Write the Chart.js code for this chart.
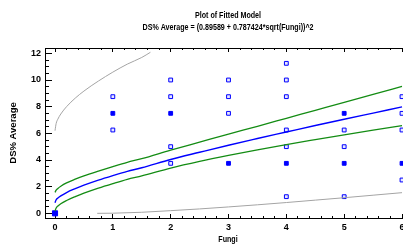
<!DOCTYPE html>
<html>
<head>
<meta charset="utf-8">
<script src="https://cdn.jsdelivr.net/npm/chart.js@4.4.1/dist/chart.umd.min.js"></script>
<style>
  html, body { margin: 0; padding: 0; background: #fff; overflow: hidden; }
  #fit-chart { display: block; }
</style>
</head>
<body>
<canvas id="fit-chart" width="403" height="245"></canvas>
<script>
const titleLines = ["Plot of Fitted Model", "DS% Average = (0.89589 + 0.787424*sqrt(Fungi))^2"];
const xTitle = "Fungi";
const yTitle = "DS% Average";

const xTickLabels = [0, 1, 2, 3, 4, 5, 6];
const yTickLabels = [0, 2, 4, 6, 8, 10, 12];

// observed points (count > 1 where several observations overlap)
const obsX = [0, 1, 1, 1, 2, 2, 2, 2, 2, 3, 3, 3, 3, 4, 4, 4, 4, 4, 4, 4, 5, 5, 5, 5, 5, 6, 6, 6, 6, 6];
const obsY = [0, 8.75, 7.5, 6.25, 10, 8.75, 7.5, 5, 3.75, 10, 8.75, 7.5, 3.75, 11.25, 10, 8.75, 6.25, 5, 3.75, 1.25, 7.5, 6.25, 5, 3.75, 1.25, 8.75, 7.5, 6.25, 3.75, 2.5];
const obsCount = [3, 1, 2, 1, 1, 1, 2, 1, 1, 1, 1, 1, 2, 1, 1, 1, 1, 1, 2, 1, 2, 1, 1, 2, 1, 1, 1, 1, 2, 1];

// fitted line and 95% confidence limits
const fitX = [0, 0.02, 0.05, 0.1, 0.2, 0.35, 0.5, 0.75, 1, 1.25, 1.5, 2, 2.5, 3, 3.5, 4, 4.5, 5, 5.5, 6];
const fitY = [0.80, 1.02, 1.15, 1.31, 1.56, 1.85, 2.11, 2.49, 2.83, 3.15, 3.42, 4.04, 4.58, 5.11, 5.61, 6.10, 6.59, 7.06, 7.52, 7.98];
const confUpperY = [1.57, 1.74, 1.87, 2.03, 2.28, 2.56, 2.81, 3.17, 3.51, 3.83, 4.10, 4.74, 5.34, 5.94, 6.53, 7.13, 7.73, 8.33, 8.92, 9.52];
const confLowerY = [0.18, 0.40, 0.55, 0.72, 0.96, 1.25, 1.51, 1.89, 2.23, 2.55, 2.81, 3.39, 3.89, 4.34, 4.76, 5.16, 5.53, 5.89, 6.24, 6.58];

// prediction limits
const predUpperX = [0, 0.02, 0.05, 0.1, 0.2, 0.35, 0.5, 0.75, 1, 1.25, 1.5, 1.65];
const predUpperY = [6.20, 6.74, 7.07, 7.45, 8.00, 8.64, 9.17, 9.92, 10.59, 11.19, 11.69, 12.08];
const predLowerX = [0.73, 1, 1.5, 2, 2.5, 3, 3.5, 4, 4.5, 5, 5.5, 6];
const predLowerY = [0.00, 0.01, 0.08, 0.20, 0.33, 0.48, 0.64, 0.81, 0.99, 1.17, 1.36, 1.55];

const FONT_FAMILY = '"Liberation Sans", Arial, sans-serif';
const X_MIN = -0.173;
const X_MAX = 6.017;
const Y_MIN = -0.35;
const Y_MAX = 12.4;
const TEXT_CENTER_X = 228;
const TEXT_SQUEEZE = 0.75;

function toPoints(xs, ys) {
  return xs.map((x, index) => ({ x, y: ys[index] }));
}

function stepTicks(start, stop, step) {
  const values = [];
  for (let i = 0; start + i * step <= stop + 1e-9; i++) {
    values.push(Math.round((start + i * step) * 100) / 100);
  }
  return values;
}

function fixedTicks(values) {
  return (scale) => {
    scale.ticks = values.map((value) => ({ value }));
  };
}

function fitSize(size) {
  return (scale) => {
    if (scale.isHorizontal()) {
      scale.height = size;
    } else {
      scale.width = size;
    }
    scale.paddingLeft = 0;
    scale.paddingRight = 0;
    scale.paddingTop = 0;
    scale.paddingBottom = 0;
  };
}

function curve(xs, ys, color, width) {
  return {
    type: "line",
    data: toPoints(xs, ys),
    borderColor: color,
    borderWidth: width,
    pointRadius: 0,
    pointHoverRadius: 0,
    fill: false,
    cubicInterpolationMode: "monotone",
  };
}

function axisBase(extra) {
  return Object.assign(
    {
      type: "linear",
      border: { display: true, color: "#000", width: 1 },
    },
    extra
  );
}

function tickGrid(length) {
  return { drawOnChartArea: false, drawTicks: true, tickLength: length, tickColor: "#000", tickWidth: 1 };
}

function drawSqueezed(ctx, text, x, y) {
  ctx.save();
  ctx.translate(x, y);
  ctx.scale(TEXT_SQUEEZE, 1);
  ctx.fillText(text, 0, 0);
  ctx.restore();
}

const textPlugin = {
  id: "fittedText",
  afterDraw(chart) {
    const { ctx } = chart;
    ctx.save();
    ctx.fillStyle = "#000";
    ctx.textAlign = "center";
    ctx.textBaseline = "middle";
    ctx.font = `bold 9.5px ${FONT_FAMILY}`;
    titleLines.forEach((line, index) => {
      drawSqueezed(ctx, line, TEXT_CENTER_X, 15.5 + index * 12);
    });
    drawSqueezed(ctx, xTitle, TEXT_CENTER_X, 239);
    ctx.restore();
  },
};

const tickFont = { family: FONT_FAMILY, size: 9, weight: "bold" };

new Chart(document.getElementById("fit-chart"), {
  type: "scatter",
  data: {
    datasets: [
      curve(predUpperX, predUpperY, "#a4a4a4", 1),
      curve(predLowerX, predLowerY, "#a4a4a4", 1),
      curve(fitX, confUpperY, "#138c13", 1.3),
      curve(fitX, confLowerY, "#138c13", 1.3),
      curve(fitX, fitY, "#0000ff", 1.4),
      {
        type: "scatter",
        data: toPoints(obsX, obsY),
        pointStyle: "rect",
        pointRadius: (ctx) => (obsCount[ctx.dataIndex] > 2 ? 3.6 : 2.7),
        borderColor: "#0000ff",
        borderWidth: 1,
        backgroundColor: (ctx) => (obsCount[ctx.dataIndex] > 1 ? "#0000ff" : "#e6e6ff"),
        clip: false,
      },
    ],
  },
  options: {
    responsive: false,
    devicePixelRatio: 1,
    animation: false,
    layout: { autoPadding: false, padding: { top: 48, left: 0, right: 0, bottom: 0 } },
    plugins: { legend: { display: false }, tooltip: { enabled: false }, title: { display: false } },
    scales: {
      x: axisBase({
        position: "bottom",
        weight: 1,
        min: X_MIN,
        max: X_MAX,
        afterBuildTicks: fixedTicks(xTickLabels),
        afterFit: fitSize(27),
        grid: tickGrid(-4),
        ticks: { font: tickFont, color: "#000", padding: 8, autoSkip: false, maxRotation: 0 },
      }),
      xMinor: axisBase({
        position: "bottom",
        weight: 0,
        min: X_MIN,
        max: X_MAX,
        afterBuildTicks: fixedTicks(stepTicks(0, 6, 0.2)),
        afterFit: fitSize(0),
        grid: tickGrid(-2),
        ticks: { display: false },
      }),
      xTop: axisBase({
        position: "top",
        weight: 1,
        min: X_MIN,
        max: X_MAX,
        afterBuildTicks: fixedTicks(xTickLabels),
        afterFit: fitSize(0),
        grid: tickGrid(-4),
        ticks: { display: false },
      }),
      xTopMinor: axisBase({
        position: "top",
        weight: 0,
        min: X_MIN,
        max: X_MAX,
        afterBuildTicks: fixedTicks(stepTicks(0, 6, 0.2)),
        afterFit: fitSize(0),
        grid: tickGrid(-2),
        ticks: { display: false },
      }),
      y: axisBase({
        position: "left",
        weight: 1,
        min: Y_MIN,
        max: Y_MAX,
        afterBuildTicks: fixedTicks(yTickLabels),
        afterFit: fitSize(45),
        grid: tickGrid(-7),
        ticks: { font: tickFont, color: "#000", padding: 11, autoSkip: false },
        title: {
          display: true,
          text: yTitle,
          font: { family: FONT_FAMILY, size: 9.5, weight: "bold" },
          color: "#000",
          padding: { top: 8, bottom: 0 },
        },
      }),
      yMinor: axisBase({
        position: "left",
        weight: 0,
        min: Y_MIN,
        max: Y_MAX,
        afterBuildTicks: fixedTicks(stepTicks(0, 12, 0.5)),
        afterFit: fitSize(0),
        grid: tickGrid(-4),
        ticks: { display: false },
      }),
    },
  },
  plugins: [textPlugin],
});
</script>
</body>
</html>
